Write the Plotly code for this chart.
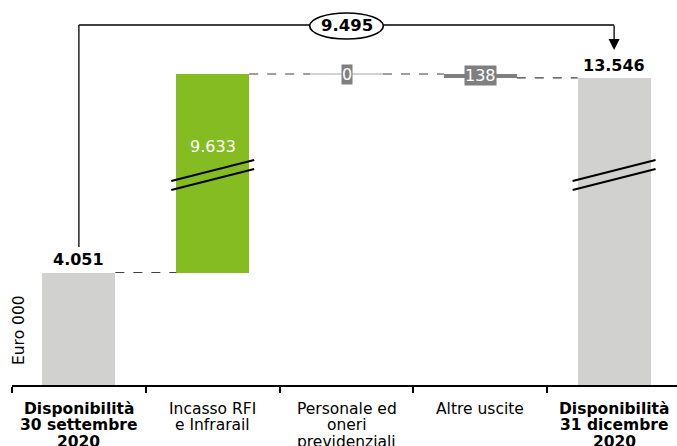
import plotly.graph_objects as go

# ---------------- data ----------------
categories = [
    "<b>Disponibilità</b><br><b>30 settembre</b><br><b>2020</b>",
    "Incasso RFI<br>e Infrarail",
    "Personale ed<br>oneri<br>previdenziali",
    "Altre uscite",
    "<b>Disponibilità</b><br><b>31 dicembre</b><br><b>2020</b>",
]
start_value = 4051
deltas = [9633, 0, -138]
end_value = 13546
axis_title = "Euro 000"

# ---------------- derived ----------------
def fmt(v):
    return f"{abs(v):,}".replace(",", ".")

levels = [start_value]
for d in deltas:
    levels.append(levels[-1] + d)
bases = [0]
heights = [start_value]
for i, d in enumerate(deltas):
    bases.append(min(levels[i], levels[i + 1]))
    heights.append(abs(d))
bases.append(0)
heights.append(end_value)

GREY = "#D1D1CF"
GREEN = "#85BC22"
MID = "#7F7F7F"
colors = [GREY] + [GREEN if d > 1000 else MID for d in deltas] + [GREY]

W = 0.545
# broken axis ranges
LOW = [0, 7562]
HIGH = [10047, 16349]
BREAK = 0.5455
PH = 385.0  # plot height in px (for paper-coordinate styling positions)

x = list(range(len(categories)))

fig = go.Figure()
for ax in ["y", "y2"]:
    fig.add_trace(go.Bar(
        x=[xi for xi, h in zip(x, heights) if h > 0],
        y=[h for h in heights if h > 0],
        base=[b for b, h in zip(bases, heights) if h > 0],
        marker=dict(color=[c for c, h in zip(colors, heights) if h > 0], line=dict(width=0)),
        width=W, yaxis=ax, hoverinfo="skip", showlegend=False,
    ))

def axis_for(v):
    return "y" if v <= LOW[1] else "y2"

# zero-height bars as thin lines
for i, d in enumerate(deltas):
    if d == 0:
        xi = i + 1
        fig.add_trace(go.Scatter(
            x=[xi - W / 2, xi + W / 2], y=[levels[i], levels[i]], mode="lines",
            line=dict(color="#A6A6A6", width=1.2), yaxis=axis_for(levels[i]),
            hoverinfo="skip", showlegend=False))

# connectors
for i in range(len(categories) - 1):
    lv = levels[i]
    fig.add_trace(go.Scatter(
        x=[i + W / 2, i + 1 - W / 2], y=[lv, lv], mode="lines",
        line=dict(color="#404040", width=1.2, dash="dash"), yaxis=axis_for(lv),
        hoverinfo="skip", showlegend=False))

annotations = []
# totals labels
annotations.append(dict(x=0, y=start_value, xref="x", yref=axis_for(start_value),
                        text=f"<b>{fmt(start_value)}</b>", showarrow=False,
                        yanchor="bottom", yshift=1, font=dict(size=16, color="black")))
annotations.append(dict(x=4, y=end_value, xref="x", yref=axis_for(end_value),
                        text=f"<b>{fmt(end_value)}</b>", showarrow=False,
                        yanchor="bottom", yshift=1, font=dict(size=16, color="black")))
# delta labels
for i, d in enumerate(deltas):
    xi = i + 1
    top = max(levels[i], levels[i + 1])
    if abs(d) > 1000:
        annotations.append(dict(x=xi, y=top, xref="x", yref=axis_for(top),
                                text=fmt(d), showarrow=False, yanchor="top", yshift=-61,
                                font=dict(size=16, color="white")))
    else:
        mid = (levels[i] + levels[i + 1]) / 2
        annotations.append(dict(x=xi, y=mid, xref="x", yref=axis_for(mid),
                                text=fmt(d), showarrow=False, yanchor="middle",
                                bgcolor="#7F7F7F", borderpad=0,
                                font=dict(size=16, color="white")))

# difference bracket
diff = end_value - start_value
Y_TOP = (PH - 25) / PH
shapes = []
shapes.append(dict(type="line", xref="x", yref="paper", x0=0, x1=0,
                   y0=(PH - 247) / PH, y1=Y_TOP, line=dict(color="black", width=1.3)))
shapes.append(dict(type="line", xref="x", yref="paper", x0=0, x1=4,
                   y0=Y_TOP, y1=Y_TOP, line=dict(color="black", width=1.3)))
annotations.append(dict(x=4, y=(PH - 50) / PH, xref="x", yref="paper",
                        ax=0, ay=-26, axref="pixel", ayref="pixel",
                        showarrow=True, arrowhead=2, arrowsize=1.7, arrowwidth=1.3,
                        arrowcolor="black", text=""))
shapes.append(dict(type="circle", xref="x", yref="paper", x0=2 - 0.275, x1=2 + 0.275,
                   y0=(PH - 39) / PH, y1=(PH - 13) / PH,
                   line=dict(color="black", width=1.6), fillcolor="white"))
annotations.append(dict(x=2, y=Y_TOP, xref="x", yref="paper", text=f"<b>{fmt(diff)}</b>",
                        showarrow=False, xanchor="center", yanchor="middle",
                        font=dict(size=16.5, color="black")))

# break marks on bars crossing the gap
for xi, b, h in zip(x, bases, heights):
    if b < LOW[1] and b + h > HIGH[0]:
        for off in (0, 9):
            shapes.append(dict(type="line", xref="x", yref="paper",
                               x0=xi - 0.31, x1=xi + 0.31,
                               y0=(PH - 181 - off) / PH, y1=(PH - 160 - off) / PH,
                               line=dict(color="black", width=2)))

# category labels (one annotation per text line)
for xi, cat in zip(x, categories):
    for k, line in enumerate(cat.split("<br>")):
        annotations.append(dict(x=xi, y=0, xref="x", yref="paper", text=line,
                                showarrow=False, xanchor="center", yanchor="middle",
                                yshift=-(24 + 16.3 * k),
                                font=dict(size=15.5, color="black")))

# axis title
annotations.append(dict(x=0, y=(PH - 330) / PH, xref="paper", yref="paper",
                        text=axis_title, textangle=-90, showarrow=False,
                        xanchor="center", yanchor="middle", xshift=7,
                        font=dict(size=15.5, color="black")))

fig.update_layout(
    width=677, height=446,
    margin=dict(l=12, r=0, t=0, b=61),
    paper_bgcolor="white", plot_bgcolor="white",
    font=dict(family="DejaVu Sans", size=15, color="black"),
    bargap=0,
    xaxis=dict(range=[-0.5, 4.47], tickvals=x, showticklabels=False, ticks="",
               showline=True, linecolor="black", linewidth=1.5, showgrid=False,
               zeroline=False,
               minor=dict(tickvals=[i - 0.5 for i in range(len(categories) + 1)],
                          ticks="outside", ticklen=6, tickcolor="black", tickwidth=1.5),
               anchor="y"),
    yaxis=dict(domain=[0, BREAK], range=LOW, visible=False, showgrid=False, zeroline=False),
    yaxis2=dict(domain=[BREAK, 1], range=HIGH, visible=False, showgrid=False,
                zeroline=False, anchor="x"),
    shapes=shapes, annotations=annotations,
)

fig.write_html("out.html")
